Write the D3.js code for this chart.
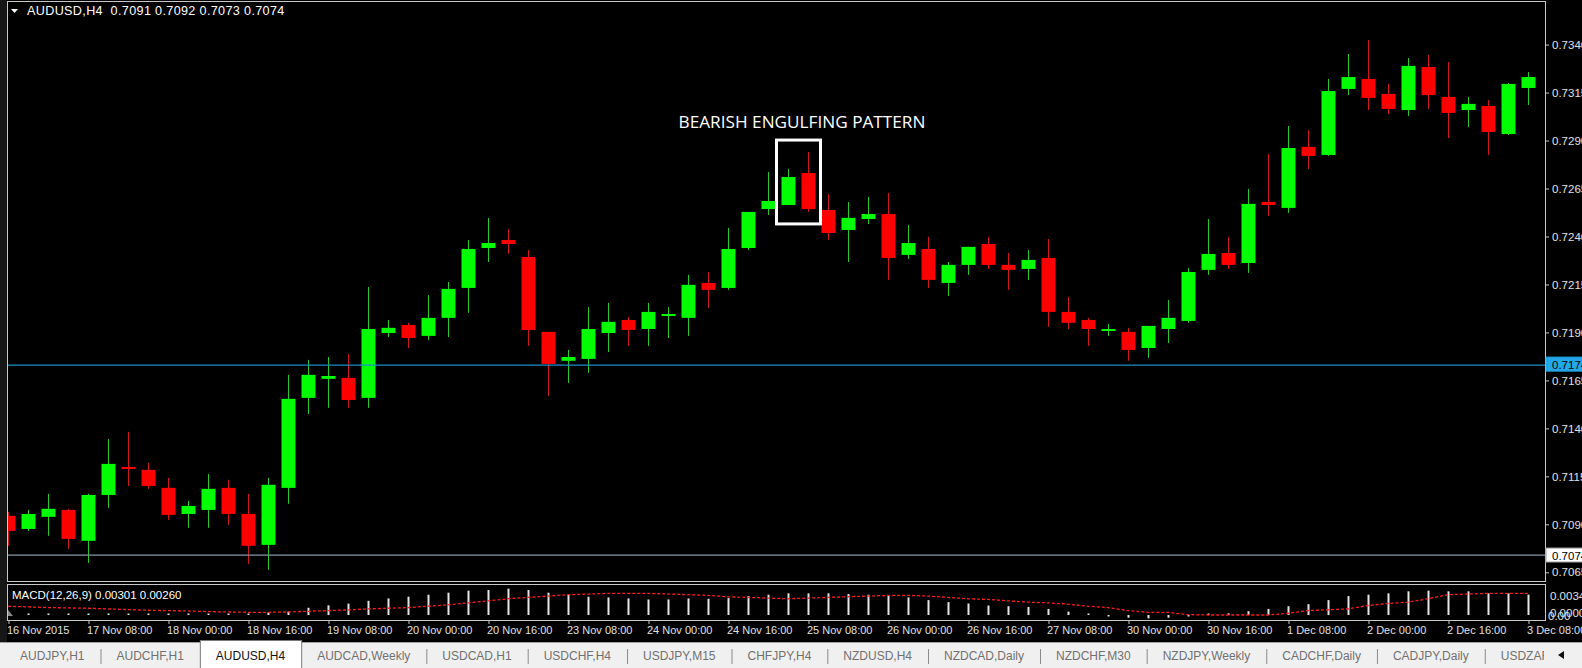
<!DOCTYPE html>
<html><head><meta charset="utf-8">
<script src="https://cdnjs.cloudflare.com/ajax/libs/d3/7.8.5/d3.min.js"></script>
<style>
html,body{margin:0;padding:0;background:#000;overflow:hidden}
svg{display:block}
</style></head><body>
<svg id="c" width="1582" height="668"></svg>
<script>
// ---------------- data ----------------
const symbol = "AUDUSD,H4";
const headerValues = ["0.7091", "0.7092", "0.7073", "0.7074"];

const open = [0.70944,0.70876,0.70939,0.70975,0.70814,0.71053,0.71199,0.71184,0.71090,0.70954,
0.70975,0.71090,0.70954,0.70793,0.71090,0.71559,0.71658,0.71663,0.71559,0.71897,
0.71939,0.71882,0.71976,0.72132,0.72340,0.72382,0.72293,0.71903,0.71752,0.71762,
0.71897,0.71965,0.71918,0.71994,0.71976,0.72158,0.72132,0.72340,0.72543,0.72564,
0.72731,0.72538,0.72434,0.72491,0.72517,0.72304,0.72335,0.72158,0.72252,0.72361,
0.72252,0.72231,0.72288,0.72007,0.71965,0.71913,0.71903,0.71819,0.71918,0.71960,
0.72226,0.72314,0.72262,0.72580,0.72549,0.72867,0.72825,0.73169,0.73221,0.73143,
0.73059,0.73283,0.73127,0.73059,0.73080,0.72934,0.73174];

const high = [0.70965,0.70975,0.71059,0.70981,0.71059,0.71345,0.71382,0.71220,0.71142,0.71022,
0.71163,0.71132,0.71059,0.71142,0.71679,0.71757,0.71772,0.71788,0.72137,0.71965,
0.71950,0.72095,0.72163,0.72382,0.72497,0.72439,0.72330,0.71903,0.71809,0.72033,
0.72054,0.71981,0.72054,0.72033,0.72200,0.72215,0.72445,0.72528,0.72736,0.72752,
0.72840,0.72622,0.72580,0.72606,0.72627,0.72460,0.72398,0.72267,0.72346,0.72398,
0.72314,0.72330,0.72387,0.72085,0.71976,0.71944,0.71924,0.71934,0.72069,0.72236,
0.72491,0.72398,0.72648,0.72830,0.72976,0.72955,0.73221,0.73351,0.73424,0.73195,
0.73330,0.73346,0.73309,0.73127,0.73111,0.73200,0.73257];

const low = [0.70788,0.70866,0.70840,0.70772,0.70699,0.70986,0.71100,0.71085,0.70923,0.70882,
0.70882,0.70897,0.70694,0.70663,0.71007,0.71475,0.71507,0.71507,0.71507,0.71876,
0.71819,0.71861,0.71876,0.72002,0.72267,0.72309,0.71830,0.71569,0.71637,0.71689,
0.71798,0.71830,0.71830,0.71871,0.71882,0.72028,0.72122,0.72330,0.72512,0.72564,
0.72528,0.72382,0.72267,0.72465,0.72174,0.72283,0.72132,0.72090,0.72200,0.72231,
0.72122,0.72174,0.71929,0.71918,0.71830,0.71882,0.71752,0.71767,0.71845,0.71950,
0.72200,0.72231,0.72210,0.72507,0.72523,0.72752,0.72820,0.73137,0.73059,0.73038,
0.73028,0.73065,0.72913,0.72971,0.72825,0.72929,0.73085];

const close = [0.70866,0.70954,0.70981,0.70824,0.71053,0.71215,0.71189,0.71100,0.70949,0.70996,
0.71085,0.70954,0.70788,0.71106,0.71554,0.71679,0.71673,0.71548,0.71918,0.71924,
0.71871,0.71976,0.72127,0.72335,0.72366,0.72361,0.71913,0.71736,0.71772,0.71918,
0.71955,0.71913,0.72007,0.71996,0.72148,0.72122,0.72335,0.72528,0.72585,0.72710,
0.72543,0.72418,0.72497,0.72517,0.72288,0.72366,0.72174,0.72252,0.72346,0.72252,
0.72226,0.72278,0.72007,0.71950,0.71918,0.71918,0.71809,0.71934,0.71976,0.72215,
0.72309,0.72252,0.72570,0.72564,0.72861,0.72820,0.73158,0.73231,0.73122,0.73065,
0.73289,0.73137,0.73044,0.73091,0.72945,0.73195,0.73231];

const macdMain = [0.0001,0.00015,0.0001,0.00012,0.0001,0.0002,0.00015,0.0001,0.00005,0.00003,
0.00002,0.00005,0.0001,0.0004,0.0005,0.00107,0.00143,0.00168,0.0021,0.00245,
0.0027,0.003,0.0033,0.0036,0.0037,0.0039,0.0037,0.0033,0.003,0.0027,
0.0026,0.00245,0.0023,0.0023,0.00245,0.0024,0.0025,0.0028,0.003,0.0032,
0.0032,0.0032,0.0031,0.003,0.0028,0.0026,0.0022,0.0019,0.0017,0.0014,
0.0013,0.0012,0.0009,0.0005,0.00015,-0.0001,-0.0004,-0.0005,-0.0004,-0.0002,
0.0001,0.00025,0.00056,0.0009,0.0013,0.0016,0.0022,0.0028,0.003,0.0032,
0.0035,0.0036,0.0035,0.0035,0.0032,0.0032,0.00301];

const macdSignal = [0.0013,0.0012,0.0011,0.00105,0.001,0.0009,0.0008,0.0007,0.00065,0.0006,
0.0005,0.00045,0.0004,0.0004,0.00045,0.00055,0.00065,0.00075,0.0009,0.001,
0.0011,0.0013,0.0015,0.0018,0.0021,0.0024,0.0026,0.0028,0.003,0.0031,
0.0032,0.0032,0.0032,0.0031,0.003,0.0029,0.0027,0.0026,0.0025,0.0024,
0.0025,0.0026,0.0027,0.0028,0.0029,0.0029,0.0028,0.0026,0.0024,0.0023,
0.0021,0.0019,0.0018,0.0016,0.0013,0.0011,0.00066,0.0004,0.0004,0.00005,
0.0,0.0,0.0,0.0,0.00025,0.00066,0.00077,0.0009,0.0014,0.0017,
0.0019,0.0024,0.003,0.0031,0.0032,0.0032,0.0032];

const macdLabel = "MACD(12,26,9) 0.00301 0.00260";
const macdTicks = [0.0034, 0.0000];

const timeTickLabels = ["16 Nov 2015","17 Nov 08:00","18 Nov 00:00","18 Nov 16:00","19 Nov 08:00",
"20 Nov 00:00","20 Nov 16:00","23 Nov 08:00","24 Nov 00:00","24 Nov 16:00","25 Nov 08:00",
"26 Nov 00:00","26 Nov 16:00","27 Nov 08:00","30 Nov 00:00","30 Nov 16:00","1 Dec 08:00",
"2 Dec 00:00","2 Dec 16:00","3 Dec 08:00"];
const timeTickStep = 4;

const priceTicks = [0.7340,0.7315,0.7290,0.7265,0.7240,0.7215,0.7190,0.7165,0.7140,0.7115,0.7090,0.7065];
const blueLevel = 0.7174;
const bidLevel = 0.7074;

const patternLabel = "BEARISH ENGULFING PATTERN";
const patternBars = [39, 40];

const tabs = ["AUDJPY,H1","AUDCHF,H1","AUDUSD,H4","AUDCAD,Weekly","USDCAD,H1","USDCHF,H4",
"USDJPY,M15","CHFJPY,H4","NZDUSD,H4","NZDCAD,Daily","NZDCHF,M30","NZDJPY,Weekly",
"CADCHF,Daily","CADJPY,Daily","USDZAR,H4"];
const activeTab = "AUDUSD,H4";

// ---------------- layout ----------------
const svg = d3.select("#c");
const L = 7, R = 1545, mainTop = 1, mainBot = 581, macdTop = 584, macdBot = 620;
const FONT = "'Liberation Sans', Arial, sans-serif";
const n = open.length;

const x = d3.scaleLinear().domain([0, n - 1]).range([8, 1528]);
const y = d3.scaleLinear().domain([0.7340, 0.7065]).range([44.6, 572.3]);
const my = d3.scaleLinear().domain([0, 0.0034]).range([615, 592]);

svg.append("rect").attr("width", 1582).attr("height", 668).attr("fill", "#000");
svg.append("rect").attr("x", 0).attr("y", 0).attr("width", L).attr("height", 642).attr("fill", "#161616");

const defs = svg.append("defs");
defs.append("clipPath").attr("id", "clipMain").append("rect")
  .attr("x", L + 1).attr("y", mainTop + 1).attr("width", R - L - 1).attr("height", mainBot - mainTop - 1);
defs.append("clipPath").attr("id", "clipMacd").append("rect")
  .attr("x", L + 1).attr("y", macdTop + 1).attr("width", R - L - 1).attr("height", macdBot - macdTop - 1);

// ---------------- candles ----------------
const gMain = svg.append("g").attr("clip-path", "url(#clipMain)");
const idx = d3.range(n);
const BULL = "#00ff00", BEAR = "#ff0000", BULLW = "#28c828", BEARW = "#d01818";
const isBull = i => close[i] >= open[i];

gMain.selectAll("line.wick").data(idx).join("line")
  .attr("x1", i => Math.round(x(i)) + 0.5).attr("x2", i => Math.round(x(i)) + 0.5)
  .attr("y1", i => y(high[i])).attr("y2", i => y(low[i]))
  .attr("stroke", i => isBull(i) ? BULLW : BEARW).attr("stroke-width", 1);

gMain.selectAll("rect.body").data(idx).join("rect")
  .attr("x", i => Math.round(x(i)) - 6.5).attr("width", 14)
  .attr("y", i => Math.min(y(open[i]), y(close[i])))
  .attr("height", i => Math.max(2, Math.abs(y(open[i]) - y(close[i]))))
  .attr("fill", i => isBull(i) ? BULL : BEAR);

// horizontal levels
gMain.append("line").attr("x1", L).attr("x2", R).attr("y1", y(blueLevel) + 2).attr("y2", y(blueLevel) + 2)
  .attr("stroke", "#1e8fc8").attr("stroke-width", 1.2);
gMain.append("line").attr("x1", L).attr("x2", R).attr("y1", y(bidLevel)).attr("y2", y(bidLevel))
  .attr("stroke", "#8796a3").attr("stroke-width", 1.2);

// pattern annotation
const pb0 = patternBars[0], pb1 = patternBars[1];
const boxTop = y(d3.max(patternBars, i => high[i])) - 12;
const boxBot = y(d3.min(patternBars, i => low[i])) + 12;
svg.append("rect")
  .attr("x", x(pb0) - 11.5).attr("y", boxTop)
  .attr("width", x(pb1) - x(pb0) + 24).attr("height", boxBot - boxTop)
  .attr("fill", "none").attr("stroke", "#ffffff").attr("stroke-width", 3);
svg.append("text")
  .attr("x", (x(pb0) + x(pb1)) / 2 + 4).attr("y", boxTop - 12)
  .attr("text-anchor", "middle").attr("fill", "#ffffff")
  .attr("font-family", "'Open Sans', sans-serif").attr("font-size", 17.2)
  .text(patternLabel);

// ---------------- frames ----------------
svg.append("rect").attr("x", L + 0.5).attr("y", mainTop + 0.5).attr("width", R - L).attr("height", mainBot - mainTop)
  .attr("fill", "none").attr("stroke", "#c8c8c8");
svg.append("rect").attr("x", L + 0.5).attr("y", macdTop + 0.5).attr("width", R - L).attr("height", macdBot - macdTop)
  .attr("fill", "none").attr("stroke", "#c8c8c8");

// ---------------- header ----------------
svg.append("path").attr("d", "M11,9 L18,9 L14.5,13 Z").attr("fill", "#ffffff");
svg.append("text").attr("x", 27).attr("y", 15).attr("fill", "#ffffff")
  .attr("font-family", FONT).attr("font-size", 12.6).attr("letter-spacing", 0.35)
  .text(symbol + "\u00a0\u00a0" + headerValues.join("\u00a0"));

// ---------------- price axis ----------------
const yAxis = d3.axisRight(y).tickValues(priceTicks).tickSize(4).tickPadding(3)
  .tickFormat(d3.format(".4f"));
const gy = svg.append("g").attr("transform", `translate(${R},0)`).call(yAxis);
gy.select(".domain").remove();
gy.selectAll("line").attr("stroke", "#c8c8c8");
gy.selectAll("text").attr("fill", "#e0e0e0").attr("font-family", FONT).attr("font-size", 11.5);

function levelLabel(v, yy, bg, fg) {
  const g = svg.append("g").attr("transform", `translate(${R + 1},${yy})`);
  g.append("rect").attr("x", 0).attr("y", -7).attr("width", 40).attr("height", 14)
    .attr("fill", bg).attr("stroke", bg === "#ffffff" ? "#9a9a9a" : bg);
  g.append("text").attr("x", 6).attr("y", 4.5).attr("fill", fg)
    .attr("font-family", FONT).attr("font-size", 11.5).text(d3.format(".4f")(v));
}
levelLabel(blueLevel, y(blueLevel) + 1, "#22a8e8", "#000000");
levelLabel(bidLevel, y(bidLevel), "#ffffff", "#000000");

// ---------------- MACD ----------------
const gMacd = svg.append("g").attr("clip-path", "url(#clipMacd)");
gMacd.selectAll("line.hist").data(idx).join("line")
  .attr("x1", i => Math.round(x(i)) + 0.5).attr("x2", i => Math.round(x(i)) + 0.5)
  .attr("y1", my(0)).attr("y2", i => {
    const v = my(macdMain[i]);
    return Math.abs(v - my(0)) < 1.5 ? my(0) + (macdMain[i] >= 0 ? -1.5 : 1.5) : v;
  })
  .attr("stroke", "#e6e6e6").attr("stroke-width", 2);
gMacd.append("path").datum(idx)
  .attr("d", d3.line().x(i => x(i)).y(i => my(macdSignal[i])))
  .attr("fill", "none").attr("stroke", "#ff1a1a").attr("stroke-width", 1.3)
  .attr("stroke-dasharray", "3,2");
gMacd.append("path").attr("d", `M${L + 1},${my(0) + 1} L${L + 6},${my(0) + 1} L${L + 1},${my(0) - 5} Z`)
  .attr("fill", "#8a8a8a");
svg.append("text").attr("x", 12).attr("y", 599).attr("fill", "#ffffff")
  .attr("font-family", FONT).attr("font-size", 11.5).text(macdLabel);

const macdAxis = d3.axisRight(my).tickValues(macdTicks).tickSize(0).tickPadding(5)
  .tickFormat(d3.format(".4f"));
const gm = svg.append("g").attr("transform", `translate(${R},0)`).call(macdAxis);
gm.select(".domain").remove();
gm.selectAll("text").attr("fill", "#e0e0e0").attr("font-family", FONT).attr("font-size", 11.5)
  .attr("dy", (d) => d > 0 ? "0.62em" : "0.1em");
svg.append("text").attr("x", R + 3).attr("y", my(0) + 5).attr("fill", "#e0e0e0")
  .attr("font-family", FONT).attr("font-size", 11.5).text(d3.format(".2f")(0));

// ---------------- time axis ----------------
const tickIdx = d3.range(0, n, timeTickStep);
const xAxis = d3.axisBottom(x).tickValues(tickIdx).tickSize(4).tickPadding(2)
  .tickFormat((d, k) => timeTickLabels[k]);
const gx = svg.append("g").attr("transform", `translate(0.5,${macdBot})`).call(xAxis);
gx.select(".domain").remove();
gx.selectAll("line").attr("stroke", "#c8c8c8");
gx.selectAll("text").attr("text-anchor", "start").attr("dx", -2).attr("fill", "#e0e0e0")
  .attr("font-family", FONT).attr("font-size", 11);

// ---------------- tabs ----------------
const tabTop = 642;
svg.append("rect").attr("x", 0).attr("y", tabTop).attr("width", 1582).attr("height", 668 - tabTop).attr("fill", "#f0f0f0");
svg.append("line").attr("x1", 0).attr("x2", 1582).attr("y1", tabTop + 0.5).attr("y2", tabTop + 0.5).attr("stroke", "#a0a0a0");
defs.append("clipPath").attr("id", "clipTabs").append("rect").attr("x", 0).attr("y", tabTop - 3).attr("width", 1544).attr("height", 40);
const gTabs = svg.append("g").attr("clip-path", "url(#clipTabs)");
let cx = 4;
const pad = 16;
tabs.forEach((t, k) => {
  const tmp = gTabs.append("text").attr("font-family", FONT).attr("font-size", 12).text(t);
  const w = tmp.node().getComputedTextLength();
  tmp.remove();
  const tw = w + pad * 2;
  const active = t === activeTab;
  if (active) {
    gTabs.append("rect").attr("x", cx + 0.5).attr("y", tabTop - 1.5).attr("width", tw).attr("height", 30)
      .attr("fill", "#ffffff").attr("stroke", "#7a7a7a");
  } else if (k > 0 && tabs[k - 1] !== activeTab) {
    gTabs.append("line").attr("x1", cx + 0.5).attr("x2", cx + 0.5).attr("y1", tabTop + 7).attr("y2", tabTop + 22)
      .attr("stroke", "#8a8a8a");
  }
  gTabs.append("text").attr("x", cx + tw / 2).attr("y", tabTop + 18).attr("text-anchor", "middle")
    .attr("font-family", FONT).attr("font-size", 12).attr("fill", active ? "#111111" : "#707070").text(t);
  cx += tw;
});
svg.append("path").attr("d", "M1558,655 L1564,651 L1564,659 Z").attr("fill", "#111111");
</script>
</body></html>
